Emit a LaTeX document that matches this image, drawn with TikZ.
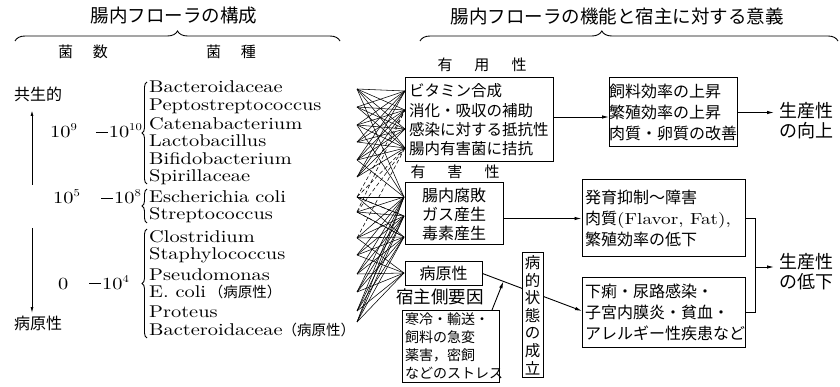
\documentclass[tikz,border=0pt]{standalone}
\usepackage{fontspec}
\newfontfamily\cjk{Noto Sans CJK JP}
\newfontfamily\lat{lmroman10-regular}[Extension=.otf,FakeStretch=1.2]
\usetikzlibrary{arrows.meta,decorations.pathreplacing,calc}
\newcommand\sps[1]{\raisebox{7pt}{\fontsize{10.5}{11}\selectfont #1}}
\newcommand\dsh{\rule[5pt]{12pt}{1.1pt}\hspace{1pt}}
\begin{document}
\begin{tikzpicture}[x=1pt,y=-1pt,
  jp/.style={font=\cjk\fontsize{15.5}{19.3}\selectfont, inner sep=0pt},
  jpb/.style={font=\cjk\fontsize{16}{21}\selectfont, inner sep=0pt},
  ttl/.style={font=\cjk\fontsize{18.5}{20}\selectfont, inner sep=0pt},
  bx/.style={draw, line width=1pt, inner sep=0pt, fill=white},
  lt/.style={font=\lat\fontsize{17}{18}\selectfont, anchor=base west, inner sep=0pt},
  num/.style={font=\lat\fontsize{17}{18}\selectfont, inner sep=0pt},
  arr/.style={-{Latex[length=7pt,width=3.5pt]}, line width=0.9pt},
  mesh/.style={line width=0.55pt},
  meshd/.style={line width=0.55pt, dash pattern=on 4pt off 2.5pt},
  brc/.style={decorate, line width=0.9pt},
]
\useasboundingbox (0,0) rectangle (840,387);

% ---- titles and braces
\node[ttl] (t1) at (174,16) {腸内フローラの構成};
\node[ttl] (t2) at (617,16) {腸内フローラの機能と宿主に対する意義};
\draw[brc, decoration={brace, amplitude=10pt}] (15,41) -- (340,41);
\draw[brc, decoration={brace, amplitude=10pt, aspect=0.435}] (420,41) -- (838,41);
\node[jp, font=\cjk\fontsize{15}{16}\selectfont] (h1) at (83,52) {菌\hspace{20pt}数};
\node[jp, font=\cjk\fontsize{15}{16}\selectfont] (h2) at (231,52) {菌\hspace{20pt}種};

% ---- left axis
\node[jp, font=\cjk\fontsize{16}{17}\selectfont] (sym) at (38,94) {共生的};
\node[jp, font=\cjk\fontsize{16}{17}\selectfont] (pat) at (38,323) {病原性};
\coordinate (a1) at (32,185);
\coordinate (a2) at (32,110);
\coordinate (a3) at (32,228);
\coordinate (a4) at (32,313);
\draw[-{Latex[length=6pt,width=3pt]}, line width=1pt] (a1) -- (a2);
\draw[-{Latex[length=6pt,width=3pt]}, line width=0.8pt] (a3) -- (a4);

% ---- numbers
\node[num, anchor=base west] (n1) at (50,138) {10\sps{9}};
\node[num, anchor=base east] (n2) at (142,138) {\dsh 10\sps{10}};
\node[num, anchor=base west] (n3) at (53,204) {10\sps{5}};
\node[num, anchor=base east] (n4) at (141,204) {\dsh 10\sps{8}};
\node[num, anchor=base west] (n5) at (58,289) {0};
\node[num, anchor=base east] (n6) at (129,289) {\dsh 10\sps{4}};

% ---- group braces
\draw[brc, decoration={brace, amplitude=5pt}] (147,184) -- (147,82);
\draw[brc, decoration={brace, amplitude=5pt}] (147,223) -- (147,189);
\draw[brc, decoration={brace, amplitude=5pt}] (147,338) -- (147,229);

% ---- bacteria
\node[lt] (b1) at (149,93) {Bacteroidaceae};
\node[lt] (b2) at (149,111) {Peptostreptococcus};
\node[lt] (b3) at (149,130) {Catenabacterium};
\node[lt] (b4) at (149,147) {Lactobacillus};
\node[lt] (b5) at (149,165) {Bifidobacterium};
\node[lt] (b6) at (149,182) {Spirillaceae};
\node[lt] (b7) at (149,203) {Escherichia\hspace{6pt}coli};
\node[lt] (b8) at (149,220) {Streptococcus};
\node[lt] (b9) at (149,243) {Clostridium};
\node[lt] (b10) at (149,260) {Staphylococcus};
\node[lt] (b11) at (149,280) {Pseudomonas};
\node[lt] (b12) at (149,298) {E. coli\,{\cjk\fontsize{14.5}{15}\selectfont （病原性）}};
\node[lt] (b13) at (149,317) {Proteus};
\node[lt] (b14) at (149,335) {Bacteroidaceae{\cjk\fontsize{14.5}{15}\selectfont （病原性）}};

% ---- mesh end points
\foreach \y [count=\i] in {89,107,125,142,160,177,197,212,238,255,274,292,311,322}
  \coordinate (l\i) at (357,\y);
\coordinate (u1) at (405,91);
\coordinate (u2) at (405,110);
\coordinate (u3) at (405,129);
\coordinate (u4) at (405,148);
\coordinate (g1) at (404,197);
\coordinate (g2) at (404,216);
\coordinate (g3) at (404,237);
\coordinate (p1) at (404,273);

\foreach \i in {1,...,6} \foreach \j in {1,...,4} \draw[mesh] (l\i) -- (u\j);
\foreach \i in {1,3,5} \draw[mesh] (l\i) -- (g1);
\foreach \i in {7,8} \foreach \j in {1,2,3} \draw[mesh] (l\i) -- (g\j);
\foreach \i in {7,8} \foreach \j in {2,4} \draw[meshd] (l\i) -- (u\j);
\draw[meshd] (l8) -- (g3);
\draw[meshd] (l7) -- (g2);
\foreach \i in {9,...,14} \foreach \j in {1,2,3} \draw[mesh] (l\i) -- (g\j);
\foreach \i in {9,...,14} \draw[mesh] (l\i) -- (p1);
\draw[meshd] (l9) -- (u4);

% ---- function boxes
\node[jp, font=\cjk\fontsize{15}{16}\selectfont] (yl) at (482,65) {有\hspace{22pt}用\hspace{22pt}性};
\node[bx, minimum width=148pt, minimum height=84pt] (use) at (479,120) {};
\node[jp, anchor=west, align=left] (usetx) at (409,120) {ビタミン合成\\消化・吸収の補助\\感染に対する抵抗性\\腸内有害菌に拮抗};

\node[jp, font=\cjk\fontsize{15}{16}\selectfont] (gl) at (455,172) {有\hspace{22pt}害\hspace{22pt}性};
\node[bx, minimum width=98pt, minimum height=62pt] (gai) at (454,214) {};
\node[jp, align=center, font=\cjk\fontsize{16}{19}\selectfont] (gaitx) at (gai) {腸内腐敗\\ガス産生\\毒素産生};

\node[bx, minimum width=77pt, minimum height=23pt] (byo) at (443.5,273.5) {};
\node[jp, font=\cjk\fontsize{16}{17}\selectfont] (byotx) at (byo) {病原性};

\node[jp, font=\cjk\fontsize{17.5}{18}\selectfont] (shu) at (440,297) {宿主側要因};
\node[bx, minimum width=97pt, minimum height=72pt] (kan) at (451,346) {};
\node[jp, anchor=west, align=left, font=\cjk\fontsize{14}{18}\selectfont] (kantx) at (405,346) {寒冷・輸送・\\飼料の急変\\薬害，密飼\\などのストレス};

% ---- effect boxes
\node[bx, minimum width=128pt, minimum height=69pt] (shi) at (673,112.5) {};
\node[jpb, align=left] (shitx) at (shi) {飼料効率の上昇\\繁殖効率の上昇\\肉質・卵質の改善};

\node[bx, minimum width=163pt, minimum height=77pt] (hat) at (663.5,218.5) {};
\node[jpb, anchor=west, align=left] (hattx) at (585,218.5) {発育抑制〜障害\\肉質{\lat\fontsize{16}{16}\selectfont(Flavor, Fat),}\\繁殖効率の低下};

\node[bx, minimum width=163pt, minimum height=70pt] (geri) at (663.5,312) {};
\node[jpb, anchor=west, align=left] (geritx) at (585,312) {下痢・尿路感染・\\子宮内膜炎・貧血・\\アレルギー性疾患など};

\node[jp, anchor=west, align=left, font=\cjk\fontsize{18}{20}\selectfont] (kojo) at (779,121) {生産性\\の向上};
\node[jp, anchor=west, align=left, font=\cjk\fontsize{18}{20}\selectfont] (teika) at (779,272) {生産性\\の低下};

% pathogenic line (behind vertical box)
\coordinate (gw) at (582,311);
\draw[arr] (byo.east) -- (gw);
\coordinate (k) at ($(byo.east)!0.21!(gw)$);
\coordinate (kt) at (492,310);
\draw[arr] (kt) -- (k);

\node[bx, minimum width=21pt, minimum height=124pt] (sta) at (532.5,315) {};
\node[jp, align=center, font=\cjk\fontsize{15.5}{17.6}\selectfont] (statx) at (sta) {病\\的\\状\\態\\の\\成\\立};

% ---- connectors
\coordinate (ue) at (553,117);
\coordinate (sw) at (609,117);
\draw[arr] (ue) -- (sw);
\coordinate (ko) at (774,112.5);
\draw[arr] (shi.east) -- (ko);
\coordinate (ge) at (503,218.5);
\draw[arr] (ge) -- (hat.west);
\coordinate (m) at (755,267);
\draw[line width=0.9pt] (hat.east) -| (m) |- (geri.east);
\coordinate (te) at (774,267);
\draw[arr] (m) -- (te);
\end{tikzpicture}
\end{document}
